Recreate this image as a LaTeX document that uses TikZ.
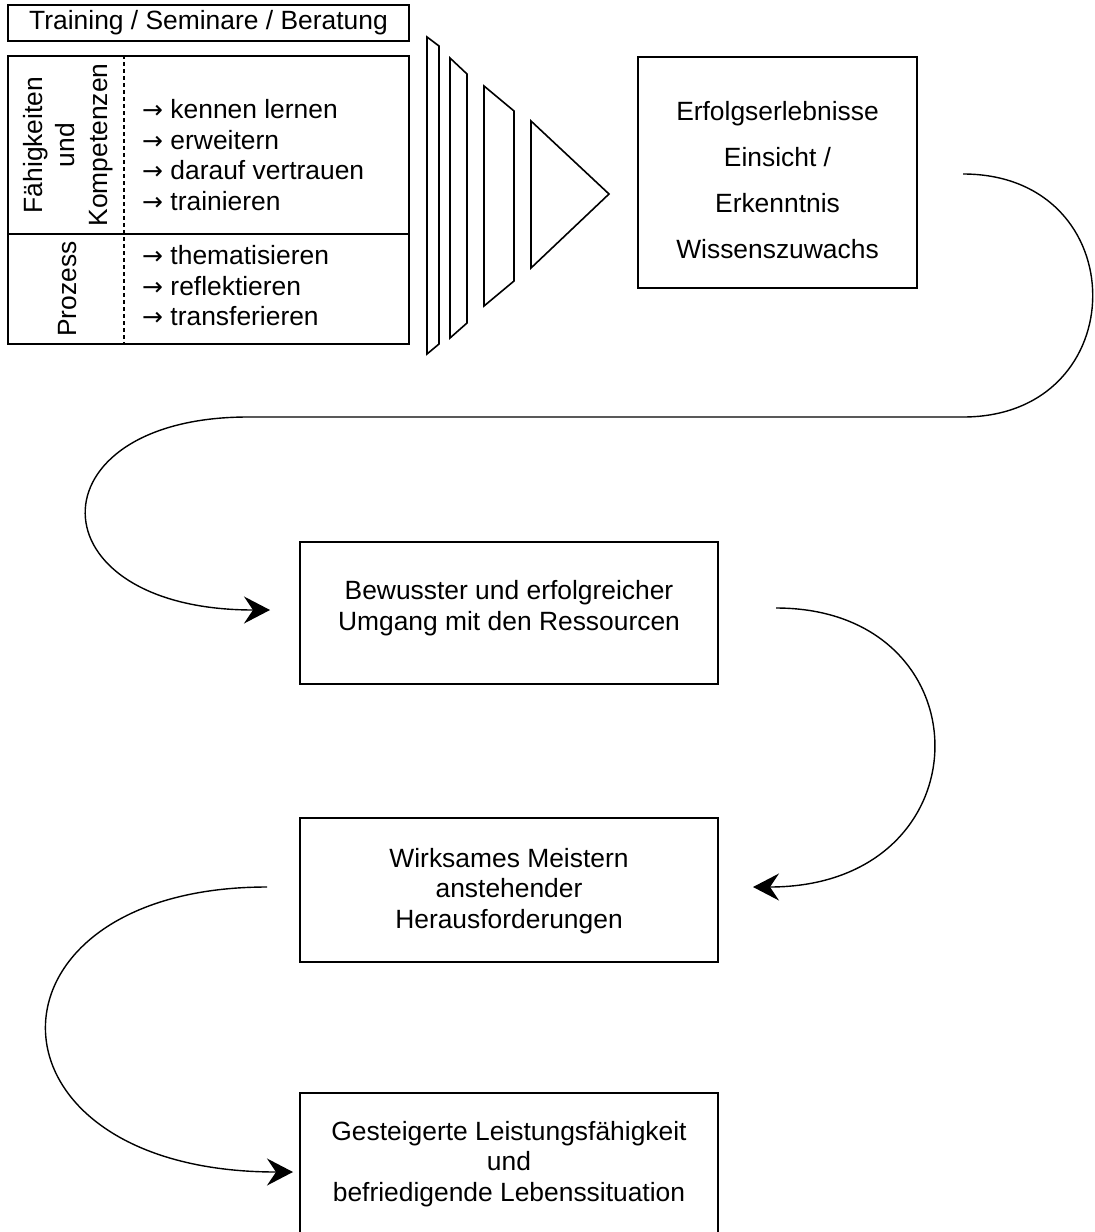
\documentclass[tikz,border=0pt]{standalone}
\usepackage{fontspec}
\setmainfont{Liberation Sans}
\newfontfamily\pfeilfont{DejaVu Sans}
\usetikzlibrary{arrows.meta}
\newcommand{\pfeil}{{\pfeilfont\fontsize{25}{25}\selectfont →}\ }
\tikzset{frame/.style={draw,line width=1.6pt,inner sep=0pt},
	txt/.style={align=center,inner sep=0pt,font=\fontsize{26.4}{30.5}\selectfont},
	funnel/.style={draw,line width=1.6pt,line join=miter},
	flow/.style={draw,line width=1.4pt,-{Stealth[length=26pt,width=27pt,inset=9pt]}}}

\begin{document}
\begin{tikzpicture}[x=1pt,y=-1pt]
		\useasboundingbox (0,0) rectangle (1095,1232);
		% Angebot und Inhalte
		\node[frame,txt,minimum width=401pt,minimum height=36pt] (angebot) at (208.5,23) {Training / Seminare / Beratung};
		\node[frame,minimum width=401pt,minimum height=178pt] (faehig) at (208.5,145) {};
		\node[frame,minimum width=401pt,minimum height=110pt] (prozess) at (208.5,289) {};
		\draw[line width=1.5pt,dash pattern=on 4pt off 3pt] ([xshift=117pt]faehig.north west) -- ([xshift=117pt]prozess.south west);
		\node[txt,rotate=90,font=\fontsize{26.4}{32.5}\selectfont] (faehigtxt) at (68,145) {Fähigkeiten\\und\\Kompetenzen};
		\node[txt,rotate=90] (prozesstxt) at (68,289) {Prozess};
		\node[txt,align=left,anchor=west] (faehigliste) at (142,155) {\pfeil kennen lernen\\\pfeil erweitern\\\pfeil darauf vertrauen\\\pfeil trainieren};
		\node[txt,align=left,anchor=west] (prozessliste) at (142,286) {\pfeil thematisieren\\\pfeil reflektieren\\\pfeil transferieren};
		% Trichter
		\draw[funnel] (427,37) -- (439,46) -- (439,344) -- (427,354) -- cycle;
		\draw[funnel] (450,58) -- (467,74) -- (467,323) -- (450,338) -- cycle;
		\draw[funnel] (484,86) -- (514,111) -- (514,281) -- (484,306) -- cycle;
		\draw[funnel] (531,121) -- (609,194) -- (531,268) -- cycle;
		% Wirkungskette
		\node[frame,minimum width=279pt,minimum height=231pt] (erfolg) at (777.5,172.5) {};
		\node[txt,font=\fontsize{26.4}{46}\selectfont] (erfolgtxt) at (777.5,180.5) {Erfolgserlebnisse\\Einsicht /\\Erkenntnis\\Wissenszuwachs};
		\node[frame,minimum width=418pt,minimum height=142pt] (umgang) at (509,613) {};
		\node[txt] (umgangtxt) at (509,608) {Bewusster und erfolgreicher\\Umgang mit den Ressourcen};
		\node[frame,minimum width=418pt,minimum height=144pt] (meistern) at (509,890) {};
		\node[txt] (meisterntxt) at (509,891) {Wirksames Meistern\\anstehender\\Herausforderungen};
		\node[frame,minimum width=418pt,minimum height=150pt] (leistung) at (509,1168) {};
		\node[txt] (leistungtxt) at (509,1164) {Gesteigerte Leistungsfähigkeit\\und\\befriedigende Lebenssituation};
		% Bögen
		\coordinate (start1) at (963,174);
		\coordinate (knick1) at (963,417);
		\coordinate (knick2) at (248,417);
		\coordinate (ziel1) at (270,610);
		\coordinate (start2) at (776,608);
		\coordinate (ziel2) at (753,887);
		\coordinate (start3) at (267,887);
		\coordinate (ziel3) at (293,1172);
		\path[flow] (start1) .. controls (1136,174) and (1136,417) .. (knick1) -- (knick2) .. controls (30,417) and (30,610) .. (ziel1);
		\path[flow] (start2) .. controls (989,608) and (989,887) .. (ziel2);
		\path[flow] (start3) .. controls (-30,887) and (-30,1172) .. (ziel3);
	\end{tikzpicture}
\end{document}
